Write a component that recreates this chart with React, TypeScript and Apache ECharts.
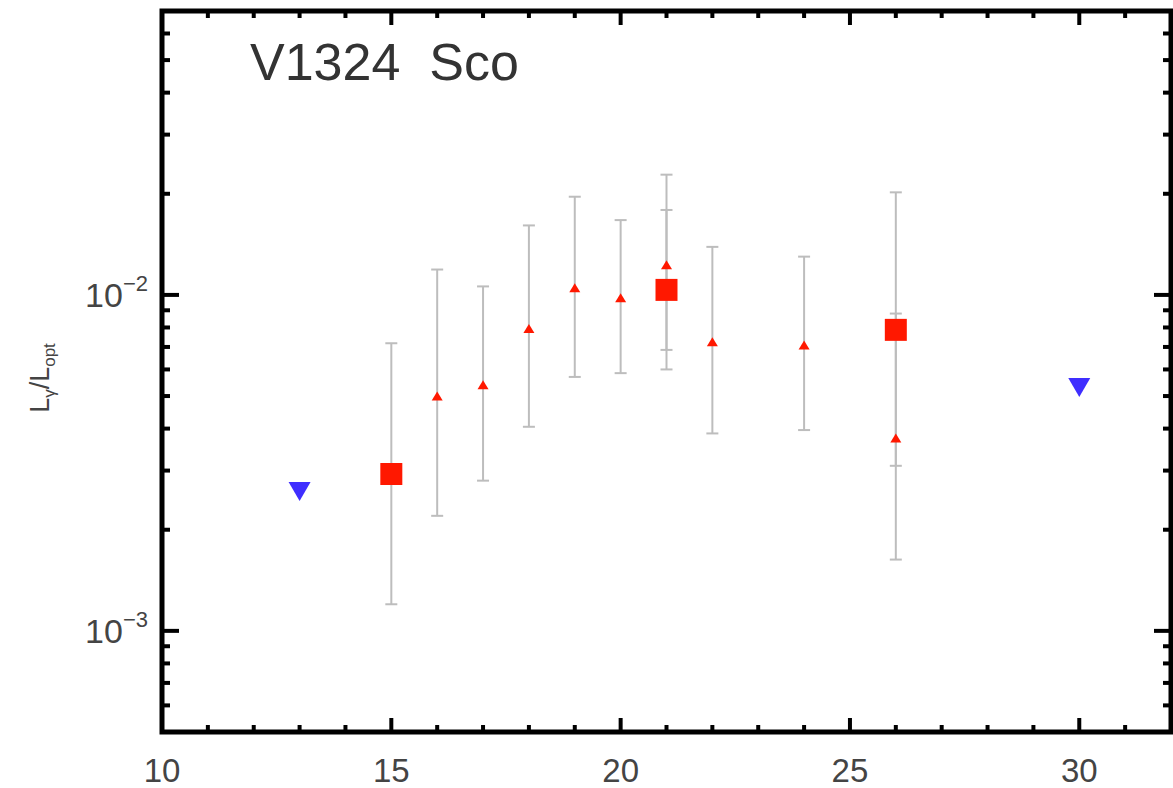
import React, { useEffect, useRef } from 'react';
import * as echarts from 'echarts';

// ---- data ----
const titleText = 'V1324  Sco';
const xLabels = [10, 15, 20, 25, 30];
const xMajorTicks = [15, 20, 25, 30];
const xMinorTicks = [11, 12, 13, 14, 16, 17, 18, 19, 21, 22, 23, 24, 26, 27, 28, 29, 31];
const yMajorTicks = [0.001, 0.01];
const yMinorTicks = [
  0.0006, 0.0007, 0.0008, 0.0009,
  0.002, 0.003, 0.004, 0.005, 0.006, 0.007, 0.008, 0.009,
  0.02, 0.03, 0.04, 0.05, 0.06,
];

const triX = [16, 17, 18, 19, 20, 21, 22, 24, 26];
const triY = [0.0050, 0.0054, 0.00795, 0.0105, 0.0098, 0.0123, 0.00725, 0.0071, 0.00375];
const triLow = [0.0022, 0.0028, 0.00405, 0.0057, 0.00585, 0.0060, 0.00387, 0.00396, 0.0031];
const triHigh = [0.0119, 0.0106, 0.0161, 0.0196, 0.0167, 0.0228, 0.0139, 0.0130, 0.0088];

const sqX = [15, 21, 26];
const sqY = [0.00293, 0.01035, 0.00787];
const sqLow = [0.0012, 0.00686, 0.00163];
const sqHigh = [0.00718, 0.0179, 0.0202];

const limX = [13, 30];
const limY = [0.0026, 0.0053];

const FONT = 'Liberation Sans, Arial, sans-serif';

export default function App() {
  const ref = useRef<HTMLDivElement>(null);

  useEffect(() => {
    if (!ref.current) return;
    const chart = echarts.init(ref.current, undefined, { renderer: 'svg' });

    const tickData: number[][] = [
      ...xMajorTicks.map((v) => [v, 0.01, 0]),
      ...xMinorTicks.map((v) => [v, 0.01, 1]),
      ...yMajorTicks.map((v) => [10, v, 2]),
      ...yMinorTicks.map((v) => [10, v, 3]),
    ];

    const errData: number[][] = [
      ...triX.map((x, i) => [x, triLow[i], triHigh[i]]),
      ...sqX.map((x, i) => [x, sqLow[i], sqHigh[i]]),
    ];

    const supMap: Record<string, string> = { '-3': '−3', '-2': '−2', '-1': '−1' };

    const option: any = {
      animation: false,
      backgroundColor: '#ffffff',
      grid: {
        left: 162,
        right: 2,
        top: 11,
        bottom: 56,
        show: true,
        borderColor: '#000',
        borderWidth: 5,
        backgroundColor: 'transparent',
      },
      xAxis: {
        type: 'value',
        min: 10,
        max: 32,
        interval: 5,
        axisLine: { show: false },
        axisTick: { show: false },
        splitLine: { show: false },
        axisLabel: {
          margin: 23,
          fontSize: 33,
          lineHeight: 30,
          color: '#444',
          fontFamily: FONT,
          formatter: (v: number) => (xLabels.includes(v) ? String(v) : ''),
          showMaxLabel: false,
        },
      },
      yAxis: {
        type: 'log',
        logBase: 10,
        min: 0.0005,
        max: 0.07,
        axisLine: { show: false },
        axisTick: { show: false },
        splitLine: { show: false },
        minorTick: { show: false },
        axisLabel: {
          margin: 14,
          color: '#444',
          fontFamily: FONT,
          showMinLabel: false,
          showMaxLabel: false,
          formatter: (v: number) => {
            const e = Math.round(Math.log10(v));
            if (Math.abs(Math.log10(v) - e) > 1e-6) return '';
            if (!yMajorTicks.some((t) => Math.abs(Math.log10(t) - e) < 1e-6)) return '';
            return '{b|10}{s|' + (supMap[String(e)] || String(e)) + '}';
          },
          rich: {
            b: { fontSize: 34, color: '#444', fontFamily: FONT },
            s: { fontSize: 22, color: '#444', fontFamily: FONT, padding: [0, 0, 22, 0] },
          },
        },
      },
      graphic: [
        {
          type: 'text',
          x: 250,
          y: 62,
          style: {
            text: titleText,
            fontSize: 52,
            fontFamily: FONT,
            fill: '#333',
            verticalAlign: 'middle',
            align: 'left',
          },
        },
        {
          type: 'text',
          x: 40,
          y: 378,
          rotation: Math.PI / 2,
          style: {
            text: '{a|L}{b|γ}{a|/L}{b|opt}',
            align: 'center',
            verticalAlign: 'middle',
            rich: {
              a: { fontSize: 27, fill: '#444', fontFamily: FONT },
              b: { fontSize: 17, fill: '#444', fontFamily: FONT, padding: [18, 0, 0, 0] },
            },
          },
        },
      ],
      series: [
        {
          type: 'custom',
          name: 'errorbars',
          silent: true,
          clip: false,
          encode: { x: 0, y: [1, 2] },
          data: errData,
          z: 1,
          renderItem: (params: any, api: any) => {
            const x = api.value(0);
            const lo = api.coord([x, api.value(1)]);
            const hi = api.coord([x, api.value(2)]);
            const style = { stroke: '#bdbdbd', lineWidth: 2 };
            const cap = 6;
            return {
              type: 'group',
              children: [
                { type: 'line', shape: { x1: lo[0], y1: lo[1], x2: hi[0], y2: hi[1] }, style },
                { type: 'line', shape: { x1: lo[0] - cap, y1: lo[1], x2: lo[0] + cap, y2: lo[1] }, style },
                { type: 'line', shape: { x1: hi[0] - cap, y1: hi[1], x2: hi[0] + cap, y2: hi[1] }, style },
              ],
            };
          },
        },
        {
          type: 'scatter',
          name: 'triangles',
          symbol: 'triangle',
          symbolSize: [11, 9],
          itemStyle: { color: '#ff1800', opacity: 1 },
          data: triX.map((x, i) => [x, triY[i]]),
          z: 3,
        },
        {
          type: 'scatter',
          name: 'squares',
          symbol: 'rect',
          symbolSize: 22,
          itemStyle: { color: '#ff1800', opacity: 1 },
          data: sqX.map((x, i) => [x, sqY[i]]),
          z: 3,
        },
        {
          type: 'scatter',
          name: 'limits',
          symbol: 'triangle',
          symbolRotate: 180,
          symbolSize: [22, 19],
          itemStyle: { color: '#3f2eff', opacity: 1 },
          data: limX.map((x, i) => [x, limY[i]]),
          z: 3,
        },
        {
          type: 'custom',
          name: 'ticks',
          silent: true,
          clip: false,
          data: tickData,
          z: 5,
          renderItem: (params: any, api: any) => {
            const cs = params.coordSys;
            const kind = api.value(2);
            const style = { stroke: '#000', lineWidth: 4 };
            if (kind < 2) {
              const px = api.coord([api.value(0), 0.01])[0];
              const len = kind === 0 ? 14 : 7;
              const yb = cs.y + cs.height;
              return {
                type: 'group',
                children: [
                  { type: 'line', shape: { x1: px, y1: yb, x2: px, y2: yb - len }, style },
                  { type: 'line', shape: { x1: px, y1: cs.y, x2: px, y2: cs.y + len }, style },
                ],
              };
            }
            const py = api.coord([10, api.value(1)])[1];
            const len = kind === 2 ? 17 : 8;
            const xr = cs.x + cs.width;
            return {
              type: 'group',
              children: [
                { type: 'line', shape: { x1: cs.x, y1: py, x2: cs.x + len, y2: py }, style },
                { type: 'line', shape: { x1: xr, y1: py, x2: xr - len, y2: py }, style },
              ],
            };
          },
        },
      ],
    };

    chart.setOption(option);
    return () => chart.dispose();
  }, []);

  return (
    <div
      ref={ref}
      style={{ position: 'absolute', left: 0, top: 0, width: 1173, height: 788, background: '#fff' }}
    />
  );
}
